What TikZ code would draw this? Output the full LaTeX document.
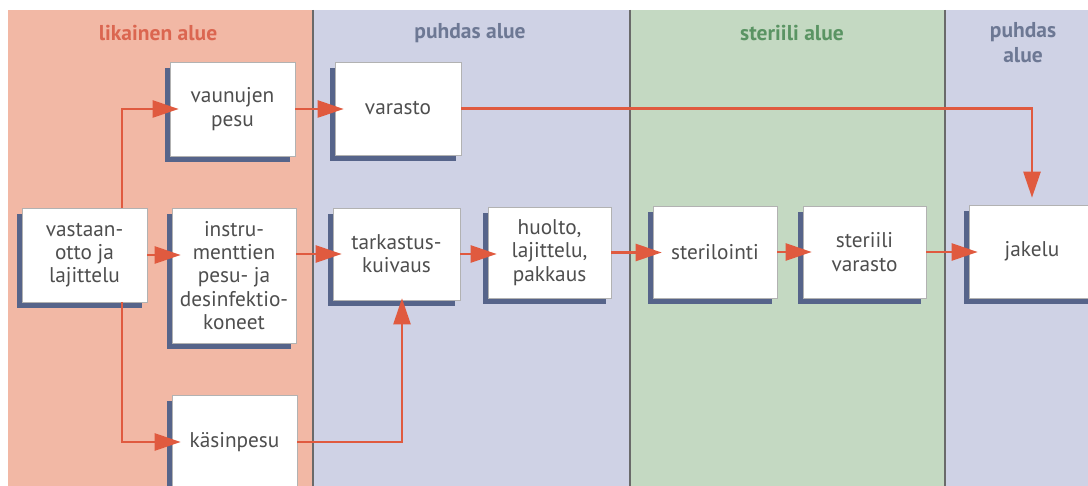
\documentclass[tikz,border=0pt]{standalone}
\usepackage{fontspec}
\setmainfont{PT Sans}
\usetikzlibrary{arrows.meta,shadows,calc}
\definecolor{pinkbg}{HTML}{F2B8A5}
\definecolor{bluebg}{HTML}{CFD2E5}
\definecolor{greenbg}{HTML}{C4D9C2}
\definecolor{shadowcol}{HTML}{56648A}
\definecolor{arrcol}{HTML}{E05A3F}
\definecolor{txtcol}{HTML}{4E4E4E}
\definecolor{hdpink}{HTML}{DB6650}
\definecolor{hdblue}{HTML}{6D7894}
\definecolor{hdgreen}{HTML}{5A9463}
\definecolor{divcol}{HTML}{6A6A6A}
\tikzset{
  box/.style={draw=gray!60, line width=0.6pt, fill=white, align=center,
    text=txtcol, font=\fontsize{21.3}{23.3}\selectfont, inner sep=0pt,
    drop shadow={shadow xshift=-5pt, shadow yshift=-6pt, fill=shadowcol, opacity=1}},
  hdr/.style={font=\fontsize{21.5}{25}\selectfont\bfseries, align=center, inner sep=0pt},
  arr/.style={draw=arrcol, line width=2.5pt, -{Triangle[length=26pt,width=17pt]}},
  harr/.style={arr, shorten >=-9pt},
  divider/.style={draw=divcol, line width=1.5pt}
}
\begin{document}
\begin{tikzpicture}[x=1pt,y=-1pt]
\clip (0,0) rectangle (1088,486);
\fill[white] (0,0) rectangle (1088,486);
% zones
\fill[pinkbg] (8,10) rectangle (313,486);
\fill[bluebg] (313,10) rectangle (630,486);
\fill[greenbg] (630,10) rectangle (945,486);
\fill[bluebg] (945,10) rectangle (1088,486);
\draw[divider] (313,10) -- (313,486);
\draw[divider] (630,10) -- (630,486);
\draw[divider] (945,10) -- (945,486);
% headers
\node[hdr, text=hdpink] (h1) at (158,33) {likainen alue};
\node[hdr, text=hdblue] (h2) at (470,33) {puhdas alue};
\node[hdr, text=hdgreen] (h3) at (792,33) {steriili alue};
\node[hdr, text=hdblue] (h4) at (1023,43) {puhdas\\alue};
% boxes
\node[box, minimum width=125, minimum height=94] (vaun) at (232.5,109) {vaunujen\\pesu};
\node[box, minimum width=126, minimum height=93] (var) at (398,108.5) {varasto};
\node[box, minimum width=125, minimum height=94] (vast) at (84.5,255) {vastaan-\\otto ja\\lajittelu};
\node[box, minimum width=124, minimum height=135] (instr) at (234,275.5) {instru-\\menttien\\pesu- ja\\desinfektio-\\koneet};
\node[box, minimum width=127, minimum height=92] (tark) at (396.5,254) {tarkastus-\\kuivaus};
\node[box, minimum width=125, minimum height=94] (kasin) at (234.5,442) {käsinpesu};
\node[box, minimum width=123, minimum height=91] (huolto) at (549.5,252.5) {huolto,\\lajittelu,\\pakkaus};
\node[box, minimum width=124, minimum height=92] (steril) at (715,252) {sterilointi};
\node[box, minimum width=123, minimum height=92] (stvar) at (864.5,252) {steriili\\varasto};
\node[box, minimum width=126, minimum height=93] (jakelu) at (1032,251.5) {jakelu};
% connectors
\coordinate (c1) at (122,108);
\coordinate (c2) at (402,442);
\draw[harr] (vast.north -| c1) |- (vaun.west);
\draw[harr] (vast.south -| c1) |- (kasin.west);
\draw[harr] (vast.east) -- (vast.east -| instr.west);
\draw[harr] (vaun.east) -- (vaun.east -| var.west);
\draw[arr, shorten >=7pt] (var.east) -| (jakelu.north);
\draw[harr] (instr.east |- tark.west) -- (tark.west);
\draw[arr, shorten >=-2pt] (kasin.east) -| (c2 |- tark.south);
\draw[harr] (tark.east) -- (tark.east -| huolto.west);
\draw[harr] (huolto.east) -- (huolto.east -| steril.west);
\draw[harr] (steril.east) -- (steril.east -| stvar.west);
\draw[harr] (stvar.east) -- (stvar.east -| jakelu.west);
\end{tikzpicture}
\end{document}
